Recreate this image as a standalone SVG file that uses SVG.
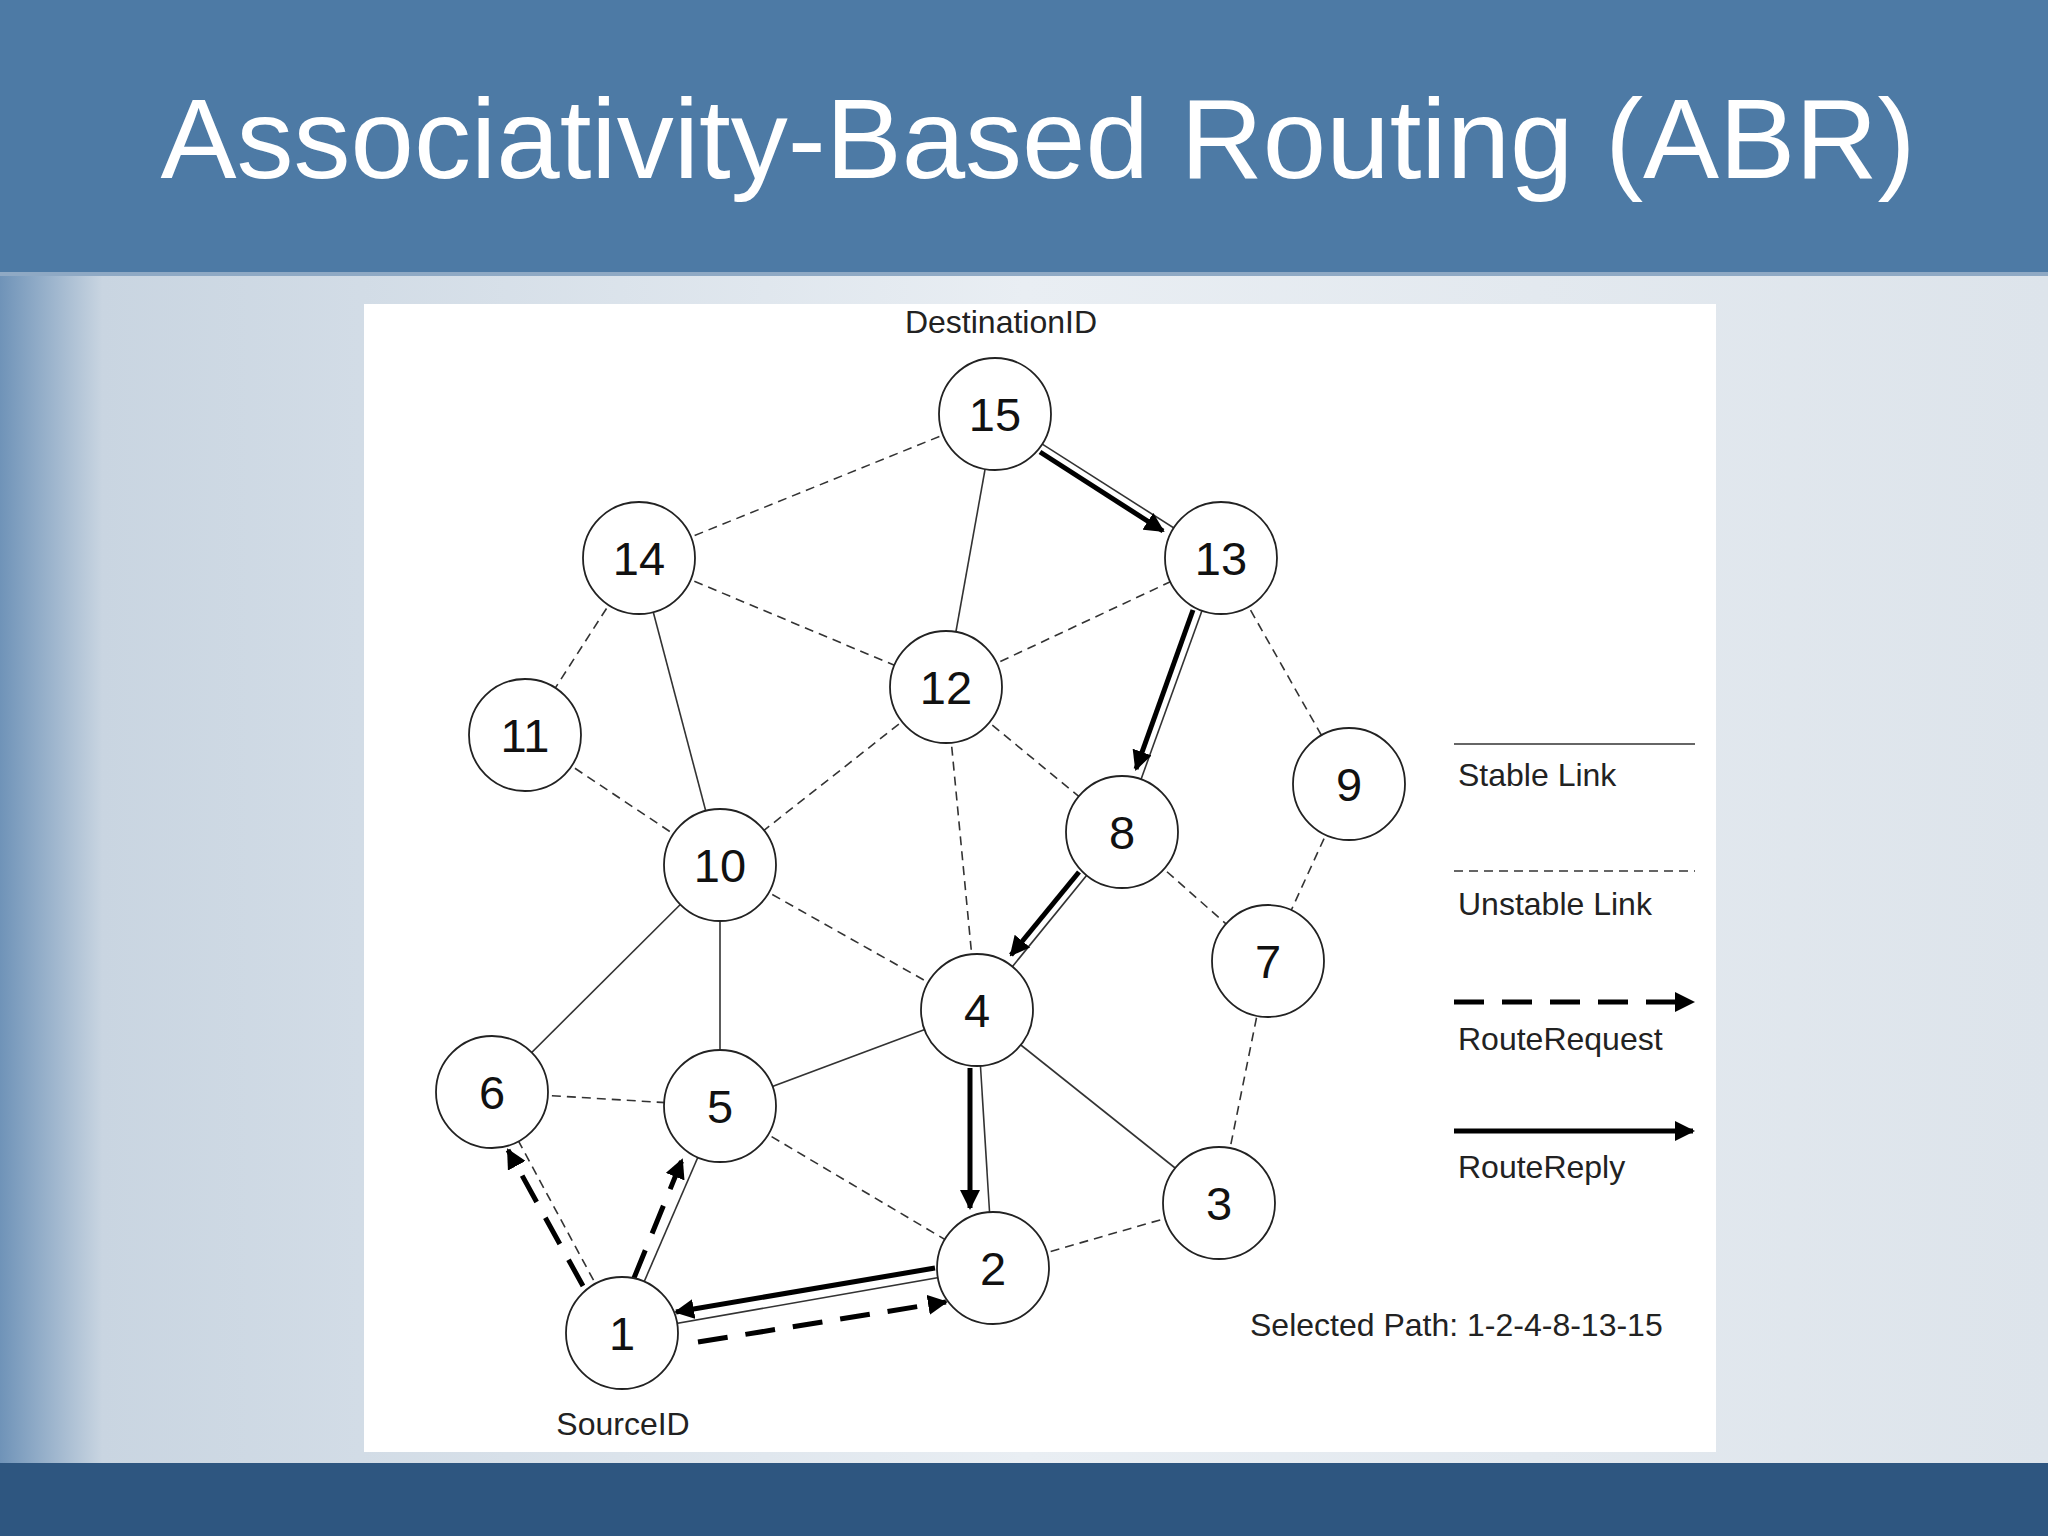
<svg xmlns="http://www.w3.org/2000/svg" width="2048" height="1536" viewBox="0 0 2048 1536">
<defs>
<linearGradient id="bg" x1="0" y1="0" x2="1" y2="0">
<stop offset="0" stop-color="#6f93b8"/><stop offset="0.05" stop-color="#c9d5e1"/><stop offset="0.5" stop-color="#e9eef3"/><stop offset="1" stop-color="#dde4eb"/>
</linearGradient>
<marker id="ah" viewBox="0 0 10 10" refX="9" refY="5" markerWidth="4" markerHeight="4" orient="auto" markerUnits="strokeWidth"><path d="M0,0 L10,5 L0,10 z" fill="#000"/></marker>
</defs>
<style>
.s{stroke:#333;stroke-width:1.6;fill:none}
.u{stroke:#333;stroke-width:1.6;fill:none;stroke-dasharray:9 6}
.rp{stroke:#000;stroke-width:5;fill:none;marker-end:url(#ah)}
.rq{stroke:#000;stroke-width:5;fill:none;stroke-dasharray:30 18;marker-end:url(#ah)}
circle{fill:#fff;stroke:#222;stroke-width:1.8}
.n{font-family:"Liberation Sans",Arial,sans-serif;font-size:47px;text-anchor:middle;fill:#111}
.t{font-family:"Liberation Sans",Arial,sans-serif;font-size:32px;fill:#222}
</style>
<rect width="2048" height="1536" fill="url(#bg)"/>
<rect y="1463" width="2048" height="73" fill="#2e5680"/>
<rect width="2048" height="274" fill="#4d7aa5"/>
<rect y="272" width="2048" height="4" fill="#8fa9c4"/>
<text x="1038" y="178" font-family="Liberation Sans,Arial,sans-serif" font-size="114" fill="#fff" text-anchor="middle">Associativity-Based Routing (ABR)</text>
<rect x="364" y="304" width="1352" height="1148" fill="#fff"/>
<g id="connectors">
<line class="s" x1="995" y1="414" x2="1221" y2="558"/>
<line class="s" x1="995" y1="414" x2="946" y2="687"/>
<line class="s" x1="639" y1="558" x2="720" y2="865"/>
<line class="s" x1="720" y1="865" x2="492" y2="1092"/>
<line class="s" x1="720" y1="865" x2="720" y2="1106"/>
<line class="s" x1="720" y1="1106" x2="977" y2="1010"/>
<line class="s" x1="977" y1="1010" x2="1219" y2="1203"/>
<line class="s" x1="1221" y1="558" x2="1122" y2="832"/>
<line class="s" x1="1122" y1="832" x2="977" y2="1010"/>
<line class="s" x1="977" y1="1010" x2="993" y2="1268"/>
<line class="s" x1="993" y1="1268" x2="622" y2="1333"/>
<line class="s" x1="622" y1="1333" x2="720" y2="1106"/>
<line class="u" x1="622" y1="1333" x2="492" y2="1092"/>
<line class="u" x1="995" y1="414" x2="639" y2="558"/>
<line class="u" x1="639" y1="558" x2="946" y2="687"/>
<line class="u" x1="946" y1="687" x2="1221" y2="558"/>
<line class="u" x1="639" y1="558" x2="525" y2="735"/>
<line class="u" x1="525" y1="735" x2="720" y2="865"/>
<line class="u" x1="946" y1="687" x2="720" y2="865"/>
<line class="u" x1="946" y1="687" x2="977" y2="1010"/>
<line class="u" x1="946" y1="687" x2="1122" y2="832"/>
<line class="u" x1="1221" y1="558" x2="1349" y2="784"/>
<line class="u" x1="1349" y1="784" x2="1268" y2="961"/>
<line class="u" x1="1122" y1="832" x2="1268" y2="961"/>
<line class="u" x1="720" y1="865" x2="977" y2="1010"/>
<line class="u" x1="492" y1="1092" x2="720" y2="1106"/>
<line class="u" x1="720" y1="1106" x2="993" y2="1268"/>
<line class="u" x1="993" y1="1268" x2="1219" y2="1203"/>
<line class="u" x1="1219" y1="1203" x2="1268" y2="961"/>
<line class="rp" x1="1040" y1="452" x2="1163" y2="531"/>
<line class="rp" x1="1193" y1="610" x2="1136" y2="769"/>
<line class="rp" x1="1079" y1="872" x2="1011" y2="955"/>
<line class="rp" x1="970" y1="1068" x2="970" y2="1208"/>
<line class="rp" x1="935" y1="1268" x2="676" y2="1312"/>
<line class="rq" x1="698" y1="1342" x2="946" y2="1302"/>
<line class="rq" x1="634" y1="1278" x2="682" y2="1160"/>
<line class="rq" x1="583" y1="1286" x2="508" y2="1150"/>
</g>
<g id="n15"><circle cx="995" cy="414" r="56"/><text class="n" x="995" y="431">15</text></g>
<g id="n13"><circle cx="1221" cy="558" r="56"/><text class="n" x="1221" y="575">13</text></g>
<g id="n14"><circle cx="639" cy="558" r="56"/><text class="n" x="639" y="575">14</text></g>
<g id="n12"><circle cx="946" cy="687" r="56"/><text class="n" x="946" y="704">12</text></g>
<g id="n11"><circle cx="525" cy="735" r="56"/><text class="n" x="525" y="752">11</text></g>
<g id="n9"><circle cx="1349" cy="784" r="56"/><text class="n" x="1349" y="801">9</text></g>
<g id="n8"><circle cx="1122" cy="832" r="56"/><text class="n" x="1122" y="849">8</text></g>
<g id="n10"><circle cx="720" cy="865" r="56"/><text class="n" x="720" y="882">10</text></g>
<g id="n7"><circle cx="1268" cy="961" r="56"/><text class="n" x="1268" y="978">7</text></g>
<g id="n4"><circle cx="977" cy="1010" r="56"/><text class="n" x="977" y="1027">4</text></g>
<g id="n6"><circle cx="492" cy="1092" r="56"/><text class="n" x="492" y="1109">6</text></g>
<g id="n5"><circle cx="720" cy="1106" r="56"/><text class="n" x="720" y="1123">5</text></g>
<g id="n3"><circle cx="1219" cy="1203" r="56"/><text class="n" x="1219" y="1220">3</text></g>
<g id="n2"><circle cx="993" cy="1268" r="56"/><text class="n" x="993" y="1285">2</text></g>
<g id="n1"><circle cx="622" cy="1333" r="56"/><text class="n" x="622" y="1350">1</text></g>
<text class="t" x="1001" y="333" text-anchor="middle">DestinationID</text>
<text class="t" x="623" y="1435" text-anchor="middle">SourceID</text>
<g id="legend">
<line class="s" x1="1454" y1="744" x2="1695" y2="744" stroke="#999"/>
<text class="t" x="1458" y="786">Stable Link</text>
<line class="u" x1="1454" y1="871" x2="1695" y2="871"/>
<text class="t" x="1458" y="915">Unstable Link</text>
<line class="rq" x1="1454" y1="1002" x2="1693" y2="1002"/>
<text class="t" x="1458" y="1050">RouteRequest</text>
<line class="rp" x1="1454" y1="1131" x2="1693" y2="1131"/>
<text class="t" x="1458" y="1178">RouteReply</text>
<text class="t" x="1250" y="1336">Selected Path: 1-2-4-8-13-15</text>
</g>
</svg>
